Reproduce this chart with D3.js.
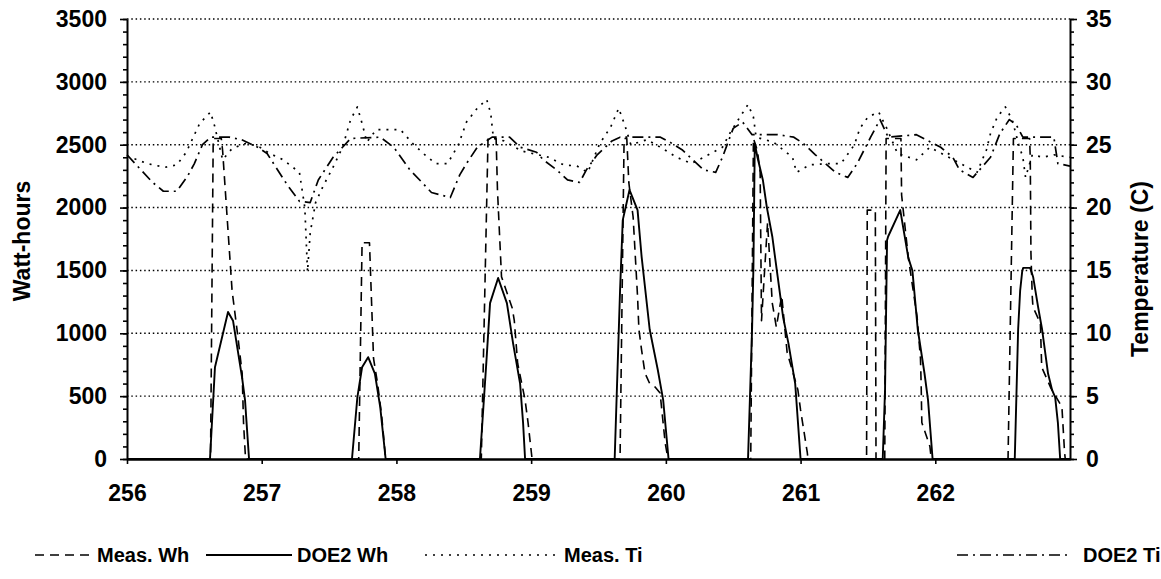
<!DOCTYPE html>
<html>
<head>
<meta charset="utf-8">
<script src="https://cdn.jsdelivr.net/npm/d3@7"></script>
<style>
  body { margin: 0; background: #fff; }
  svg { display: block; }
  text { font-family: "Liberation Sans", Arial, sans-serif; font-weight: bold; fill: #000; }
</style>
</head>
<body>
<svg id="chart" width="1161" height="579"></svg>
<script>
// day of year on x, watt-hours on left axis, temperature (C) on right axis
const xTicks = [256, 257, 258, 259, 260, 261, 262];
const whTicks = [0, 500, 1000, 1500, 2000, 2500, 3000, 3500];
const tempTicks = [0, 5, 10, 15, 20, 25, 30, 35];

const seriesNames = ["Meas. Wh", "DOE2 Wh", "Meas. Ti", "DOE2 Ti"];

// [day, Wh]
const measWh = [
  [256, 0], [256.62, 0], [256.64, 2550], [256.70, 2550], [256.71, 2450], [256.78, 1340], [256.82, 1000], [256.855, 680], [256.865, 290], [256.88, 0],
  [257.72, 0], [257.745, 1720], [257.80, 1720], [257.83, 800], [257.86, 600], [257.89, 350], [257.92, 0],
  [258.63, 0], [258.68, 2550], [258.74, 2550], [258.75, 2140], [258.78, 1450], [258.86, 1200], [258.875, 1100], [258.90, 760], [258.955, 470], [258.977, 290], [259.007, 0],
  [259.66, 0], [259.69, 2550], [259.71, 2550], [259.725, 2200], [259.757, 1925], [259.79, 1290], [259.80, 1030], [259.82, 866], [259.845, 684], [259.88, 600], [259.92, 573], [259.957, 525], [259.97, 390], [259.995, 127], [260.016, 0],
  [260.63, 0], [260.65, 2550], [260.68, 2450], [260.70, 2280], [260.71, 1100], [260.755, 1880], [260.79, 1240], [260.82, 1050], [260.86, 1300], [260.90, 850], [260.98, 550], [261.0, 390], [261.05, 50], [261.055, 0],
  [261.49, 0], [261.495, 1980], [261.555, 1980], [261.56, 0],
  [261.625, 0], [261.635, 2550], [261.745, 2550], [261.75, 2100], [261.80, 1600], [261.865, 1130], [261.89, 800], [261.895, 600], [261.90, 290], [261.96, 100], [261.97, 0],
  [262.54, 0], [262.58, 2550], [262.70, 2550], [262.705, 2400], [262.71, 1640], [262.72, 1290], [262.725, 1210], [262.78, 1080], [262.79, 730], [262.86, 560], [262.94, 414], [262.96, 48], [262.965, 0], [263, 0]
];

// [day, Wh]
const doe2Wh = [
  [256, 0], [256.616, 0], [256.653, 730], [256.75, 1170], [256.787, 1100], [256.854, 650], [256.876, 470], [256.906, 0],
  [257.67, 0], [257.71, 490], [257.745, 730], [257.79, 810], [257.84, 680], [257.88, 410], [257.92, 0],
  [258.62, 0], [258.67, 810], [258.695, 1240], [258.755, 1440], [258.82, 1240], [258.866, 920], [258.918, 600], [258.94, 290], [258.955, 0],
  [259.62, 0], [259.66, 1340], [259.68, 1900], [259.73, 2140], [259.79, 1980], [259.82, 1610], [259.88, 1030], [259.94, 710], [259.98, 470], [260.02, 0],
  [260.61, 0], [260.64, 1030], [260.65, 1530], [260.66, 2510], [260.68, 2400], [260.72, 2220], [260.75, 2000], [260.79, 1770], [260.83, 1450], [260.87, 1130], [260.91, 920], [260.96, 600], [261.0, 0],
  [261.61, 0], [261.627, 550], [261.642, 1740], [261.65, 1770], [261.74, 1980], [261.80, 1600], [261.83, 1500], [261.87, 1030], [261.92, 680], [261.946, 470], [261.98, 0],
  [262.59, 0], [262.615, 1030], [262.63, 1340], [262.645, 1490], [262.652, 1520], [262.704, 1520], [262.726, 1450], [262.763, 1210], [262.793, 1030], [262.837, 680], [262.867, 550], [262.89, 490], [262.91, 290], [262.927, 0], [263, 0]
];

// [day, C]
const measTi = [
  [256.0, 24.1], [256.15, 23.5], [256.28, 23.2], [256.37, 23.4], [256.44, 24.4], [256.54, 26.7], [256.62, 27.6], [256.65, 26.5], [256.71, 23.8], [256.78, 24.7], [256.88, 25.1], [256.97, 24.9],
  [257.06, 24.3], [257.16, 23.8], [257.28, 22.8], [257.32, 20.0], [257.34, 14.9], [257.36, 18.0], [257.40, 20.4], [257.46, 21.8], [257.52, 23.0], [257.60, 24.8], [257.66, 27.0], [257.71, 28.0], [257.75, 26.5], [257.78, 25.2], [257.85, 26.2],
  [258.03, 26.2], [258.12, 25.1], [258.20, 24.3], [258.29, 23.5], [258.38, 23.5], [258.46, 25.0], [258.52, 26.8], [258.60, 27.9], [258.67, 28.6], [258.70, 27.5], [258.72, 25.5], [258.80, 25.3], [258.93, 24.5],
  [259.13, 24.0], [259.24, 23.4], [259.34, 23.3], [259.42, 22.8], [259.51, 25.1], [259.59, 26.4], [259.65, 27.9], [259.70, 26.4], [259.74, 25.0], [259.86, 25.4], [259.96, 24.8],
  [260.08, 24.0], [260.19, 23.5], [260.28, 24.0], [260.42, 24.8], [260.48, 26.0], [260.55, 27.2], [260.61, 28.2], [260.65, 27.2], [260.67, 25.6], [260.80, 25.2], [260.94, 24.0], [260.97, 22.8],
  [261.07, 23.4], [261.20, 23.5], [261.30, 23.5], [261.40, 25.0], [261.44, 26.3], [261.50, 27.2], [261.58, 27.6], [261.64, 26.3], [261.72, 24.3], [261.86, 23.8], [261.96, 24.8],
  [262.10, 24.0], [262.31, 22.8], [262.38, 24.6], [262.41, 25.9], [262.46, 27.2], [262.52, 28.0], [262.57, 27.0], [262.62, 25.0], [262.65, 24.0], [262.67, 22.4], [262.72, 24.2], [262.80, 24.0], [262.88, 24.2], [263.0, 24.0]
];

// [day, C]
const doe2Ti = [
  [256.0, 24.2], [256.06, 23.5], [256.19, 22.0], [256.27, 21.3], [256.37, 21.3], [256.45, 22.5], [256.50, 23.5], [256.56, 25.0], [256.62, 25.6], [256.76, 25.6], [256.85, 25.4], [256.97, 24.8],
  [257.04, 24.3], [257.19, 21.8], [257.28, 20.5], [257.36, 20.4], [257.42, 22.2], [257.53, 24.0], [257.60, 24.8], [257.66, 25.5], [257.88, 25.6], [257.98, 24.8],
  [258.10, 23.0], [258.19, 22.0], [258.26, 21.2], [258.40, 20.8], [258.47, 22.6], [258.52, 23.5], [258.60, 24.8], [258.71, 25.6], [258.84, 25.6], [258.92, 24.8],
  [259.04, 24.4], [259.09, 23.8], [259.19, 23.0], [259.27, 22.2], [259.36, 22.0], [259.41, 23.0], [259.49, 24.2], [259.60, 25.3], [259.66, 25.6], [259.96, 25.6],
  [260.03, 25.2], [260.12, 24.6], [260.28, 23.0], [260.37, 22.8], [260.42, 24.0], [260.50, 26.3], [260.57, 26.8], [260.64, 25.8], [260.83, 25.8], [260.95, 25.6],
  [261.02, 25.1], [261.11, 24.2], [261.26, 22.8], [261.35, 22.4], [261.42, 23.5], [261.52, 25.6], [261.59, 27.0], [261.65, 25.6], [261.86, 25.8],
  [262.04, 24.8], [262.13, 24.0], [262.18, 23.0], [262.28, 22.4], [262.41, 24.0], [262.48, 25.9], [262.55, 27.0], [262.60, 26.6], [262.65, 25.6], [262.88, 25.6], [262.91, 23.5], [263.0, 23.3]
];

const margin = { left: 127, right: 1070, top: 19, bottom: 459 };
const svg = d3.select("#chart");
const fmt = d3.format("d");

const x = d3.scaleLinear().domain([256, 263]).range([margin.left, margin.right]);
const yWh = d3.scaleLinear().domain([0, 3500]).range([margin.bottom, margin.top]);
const yT = d3.scaleLinear().domain([0, 35]).range([margin.bottom, margin.top]);

// dotted gridlines
svg.append("g")
  .selectAll("line")
  .data(whTicks.filter(d => d > 0))
  .join("line")
  .attr("x1", margin.left).attr("x2", margin.right)
  .attr("y1", d => yWh(d)).attr("y2", d => yWh(d))
  .attr("stroke", "#000").attr("stroke-width", 1.4)
  .attr("stroke-dasharray", "1.5,2.8");

// series lines
const styles = [
  { data: measWh, y: yWh, dash: "9,6", width: 1.6 },
  { data: doe2Wh, y: yWh, dash: null, width: 1.9 },
  { data: measTi, y: yT, dash: "2,6", width: 1.7 },
  { data: doe2Ti, y: yT, dash: "11,5,2,5", width: 1.7 }
];

styles.forEach(s => {
  const line = d3.line().x(d => x(d[0])).y(d => s.y(d[1]));
  svg.append("path")
    .datum(s.data)
    .attr("d", line)
    .attr("fill", "none")
    .attr("stroke", "#000")
    .attr("stroke-width", s.width)
    .attr("stroke-linejoin", "round")
    .attr("stroke-dasharray", s.dash);
});

// left axis
const leftMinor = svg.append("g")
  .attr("transform", `translate(${margin.left},0)`)
  .call(d3.axisLeft(yWh).tickValues(d3.range(0, 3501, 100)).tickSize(4).tickFormat(""));
leftMinor.select(".domain").remove();

const leftAxis = svg.append("g")
  .attr("transform", `translate(${margin.left},0)`)
  .call(d3.axisLeft(yWh).tickValues(whTicks).tickFormat(fmt).tickSize(7).tickPadding(13).tickSizeOuter(0));
leftAxis.selectAll("text").style("font-size", "23px");

// right axis
const rightMinor = svg.append("g")
  .attr("transform", `translate(${margin.right},0)`)
  .call(d3.axisRight(yT).tickValues(d3.range(0, 36, 1)).tickSize(4).tickFormat(""));
rightMinor.select(".domain").remove();

const rightAxis = svg.append("g")
  .attr("transform", `translate(${margin.right},0)`)
  .call(d3.axisRight(yT).tickValues(tempTicks).tickFormat(fmt).tickSize(7).tickPadding(9).tickSizeOuter(0));
rightAxis.selectAll("text").style("font-size", "23px");

// bottom axis
const bottomAxis = svg.append("g")
  .attr("transform", `translate(0,${margin.bottom})`)
  .call(d3.axisBottom(x).tickValues(xTicks).tickFormat(fmt).tickSize(5).tickPadding(21).tickSizeOuter(0));
bottomAxis.selectAll("text").style("font-size", "23px");
bottomAxis.select(".domain").attr("stroke-width", 2.5);

[leftAxis, rightAxis, leftMinor, rightMinor, bottomAxis].forEach(g => {
  g.selectAll(".tick line").attr("stroke", "#000").attr("stroke-width", 1.6);
  g.selectAll(".domain").attr("stroke", "#000");
});
leftAxis.select(".domain").attr("stroke-width", 2);
rightAxis.select(".domain").attr("stroke-width", 2);

// axis titles
svg.append("text")
  .attr("transform", `translate(30,${(margin.top + margin.bottom) / 2 + 2}) rotate(-90)`)
  .attr("text-anchor", "middle")
  .style("font-size", "23px")
  .text("Watt-hours");

svg.append("text")
  .attr("transform", `translate(1148,${(margin.top + margin.bottom) / 2 + 30}) rotate(-90)`)
  .attr("text-anchor", "middle")
  .style("font-size", "23px")
  .text("Temperature (C)");

// legend
const legendY = 561;
const legendItems = [
  { x1: 35, x2: 91, tx: 97 },
  { x1: 206, x2: 292, tx: 297 },
  { x1: 425, x2: 557, tx: 564 },
  { x1: 957, x2: 1072, tx: 1083 }
];
const legend = svg.append("g");
legendItems.forEach((it, i) => {
  legend.append("line")
    .attr("x1", it.x1).attr("x2", it.x2)
    .attr("y1", legendY - 6).attr("y2", legendY - 6)
    .attr("stroke", "#000")
    .attr("stroke-width", styles[i].width)
    .attr("stroke-dasharray", styles[i].dash);
  legend.append("text")
    .attr("x", it.tx).attr("y", legendY + 1)
    .style("font-size", "20px")
    .text(seriesNames[i]);
});
</script>
</body>
</html>
